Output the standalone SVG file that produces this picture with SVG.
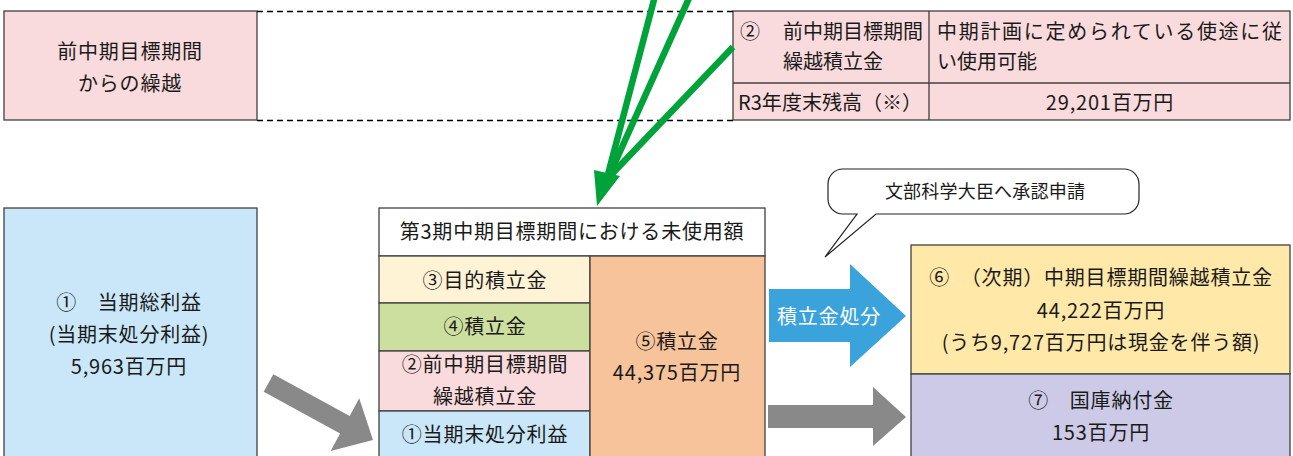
<svg xmlns="http://www.w3.org/2000/svg" width="1293" height="456" viewBox="0 0 1293 456">
<style>
text{font-family:"Noto Sans CJK JP","Noto Sans",sans-serif;font-size:20px;fill:#1a1a1a;letter-spacing:0.8px}
.t{letter-spacing:0}
.c{text-anchor:middle}
.box{stroke:#404040;stroke-width:1.3}
.dash{stroke:#000;stroke-width:1.3;stroke-dasharray:6 4;fill:none}
.green{stroke:#00A33A;stroke-width:6.5;fill:none}
.gray{fill:#898989}
</style>
<rect width="1293" height="456" fill="#fff"/>

<g id="carryover-source">
<rect class="box" x="4" y="11" width="253" height="109" fill="#FADBDD"/>
<text class="c" x="130" y="59">前中期目標期間</text>
<text class="c" x="130" y="91">からの繰越</text>
</g>

<g id="carryover-table">
<rect class="box" x="733" y="11" width="557" height="109" fill="#FADBDD"/>
<line class="box" x1="733" y1="83" x2="1290" y2="83"/>
<line class="box" x1="929" y1="11" x2="929" y2="120"/>
<text class="t" x="740" y="39">②</text>
<text class="t" x="783" y="39">前中期目標期間</text>
<text class="t" x="783" y="69">繰越積立金</text>
<text class="t" x="937" y="39" textLength="345" lengthAdjust="spacing">中期計画に定められている使途に従</text>
<text class="t" x="937" y="69">い使用可能</text>
<text class="t" x="738" y="110" textLength="184" lengthAdjust="spacing">R3年度末残高（※）</text>
<text class="c" x="1110" y="110">29,201百万円</text>
</g>

<g id="total-profit">
<rect class="box" x="4" y="208" width="253" height="270" fill="#C9E7F8"/>
<text class="c" x="129" y="310">①　当期総利益</text>
<text class="c" x="129" y="342">(当期末処分利益)</text>
<text class="c" x="129" y="374">5,963百万円</text>
</g>

<g id="unused-amount">
<rect class="box" x="379" y="208" width="386" height="48" fill="#fff"/>
<rect class="box" x="379" y="256" width="211" height="47" fill="#FFF3D6"/>
<rect class="box" x="379" y="303" width="211" height="48" fill="#CDDF9E"/>
<rect class="box" x="379" y="351" width="211" height="60" fill="#FADBDD"/>
<rect class="box" x="379" y="411" width="211" height="70" fill="#C9E7F8"/>
<rect class="box" x="590" y="256" width="175" height="225" fill="#F6C39B"/>
<text class="c" x="572" y="239">第3期中期目標期間における未使用額</text>
<text class="c" x="485" y="288">③目的積立金</text>
<text class="c" x="485" y="334">④積立金</text>
<text class="c" x="485" y="372">②前中期目標期間</text>
<text class="c" x="485" y="404">繰越積立金</text>
<text class="c" x="485" y="442">①当期末処分利益</text>
<text class="c" x="677" y="349">⑤積立金</text>
<text class="c" x="677" y="380">44,375百万円</text>
</g>

<g id="next-reserve">
<rect class="box" x="911" y="245" width="379" height="129" fill="#FFE8A8"/>
<text class="c" x="1101" y="285">⑥　（次期）中期目標期間繰越積立金</text>
<text class="c" x="1101" y="318">44,222百万円</text>
<text class="c" x="1101" y="350">(うち9,727百万円は現金を伴う額)</text>
</g>

<g id="treasury">
<rect class="box" x="911" y="374" width="379" height="100" fill="#CCCAE6"/>
<text class="c" x="1101" y="408">⑦　国庫納付金</text>
<text class="c" x="1101" y="440">153百万円</text>
</g>

<g id="approval-bubble">
<path d="M843,169 H1124 A15,15 0 0 1 1139,184 V199 A15,15 0 0 1 1124,214 H876 L825,257 L857,214 H843 A15,15 0 0 1 828,199 V184 A15,15 0 0 1 843,169 Z" fill="#fff" stroke="#222" stroke-width="1.2"/>
<text class="c" x="985" y="198" style="font-size:18px;letter-spacing:0.2px">文部科学大臣へ承認申請</text>
</g>

<g id="connectors">
<line class="dash" x1="257" y1="11.5" x2="733" y2="11.5"/>
<line class="dash" x1="257" y1="120.5" x2="733" y2="120.5"/>
<line class="green" x1="655" y1="-4" x2="607" y2="178"/>
<line class="green" x1="690" y1="-4" x2="609" y2="176"/>
<line class="green" x1="733" y1="47" x2="612" y2="174"/>
<polygon points="597,206 594,170 620,176" fill="#00A33A"/>
<polygon class="gray" points="273.3,374.2 349.7,415.9 359.2,398.3 373,440 330.6,451.1 340.1,433.5 263.7,391.8"/>
<polygon class="gray" points="768,405 873,405 873,387 906,417 873,446 873,428 768,428"/>
<polygon points="769,289 850,289 850,264 906,316 850,367 850,342 769,342" fill="#3BA3DB"/>
<text class="c" x="829" y="324" style="fill:#fff">積立金処分</text>
</g>
</svg>
